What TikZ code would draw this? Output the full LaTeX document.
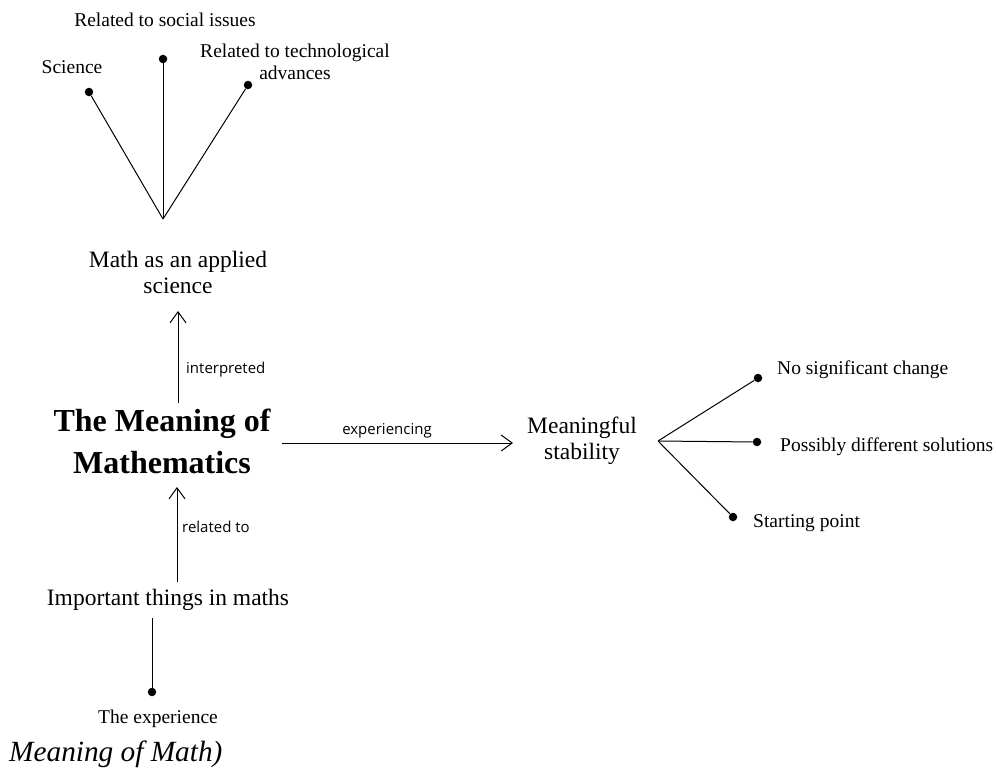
\documentclass[tikz,border=0pt]{standalone}
\usepackage{fontspec}
\setmainfont{Liberation Serif}
\newfontfamily\labelfont{Open Sans}
\usetikzlibrary{arrows.meta}
\begin{document}
\begin{tikzpicture}[x=1pt,y=-1pt,
  leaf/.style={font=\fontsize{19.5}{22}\selectfont, align=center, inner sep=0pt},
  concept/.style={font=\fontsize{23.5}{26}\selectfont, align=center, inner sep=0pt},
  title/.style={font=\fontsize{32}{42}\selectfont\bfseries, align=center, inner sep=0pt},
  linklabel/.style={font=\labelfont\fontsize{15}{17}\selectfont, inner sep=0pt},
  dot/.style={circle, fill=black, inner sep=0pt, minimum size=8.5pt},
  link/.style={line width=1pt},
  flow/.style={line width=1pt, -{Straight Barb[length=11pt,width=16pt,line width=1pt]}}]
\useasboundingbox (0,0) rectangle (996,769);

% top branch: applied science and its three aspects
\node[leaf] (sci)    at (72,67)   {Science};
\node[leaf] (social) at (165,20)  {Related to social issues};
\node[leaf] (tech)   at (295,62)  {Related to technological\\advances};
\node[dot] (dsci)    at (89,92)  {};
\node[dot] (dsocial) at (163,59) {};
\node[dot] (dtech)   at (248,85) {};
\coordinate (hub) at (163,219);
\draw[link] (hub) -- (dsci);
\draw[link] (hub) -- (dsocial);
\draw[link] (hub) -- (dtech);

\node[concept] (applied) at (178,272) {Math as an applied\\science};

% central concept
\node[title] (meaning) at (162,441) {The Meaning of\\Mathematics};

\coordinate (intA) at (178,403);
\coordinate (intB) at (178,311);
\draw[flow] (intA) -- (intB);
\node[linklabel, anchor=west] (lint) at (186,370) {interpreted};

% right branch
\node[concept] (stab) at (582,441) {Meaningful\\stability};
\coordinate (expA) at (282,443);
\coordinate (expB) at (513,443);
\draw[flow] (expA) -- (expB);
\node[linklabel] (lexp) at (387,431) {experiencing};

\coordinate (hub2) at (658,441);
\node[dot] (dnochange) at (758,378) {};
\node[dot] (dposs)     at (757,442) {};
\node[dot] (dstart)    at (733,517) {};
\draw[link] (hub2) -- (dnochange);
\draw[link] (hub2) -- (dposs);
\draw[link] (hub2) -- (dstart);
\node[leaf, anchor=west] (nochange) at (777,370) {No significant change};
\node[leaf, anchor=west] (poss)     at (780,447) {Possibly different solutions};
\node[leaf, anchor=west] (start)    at (753,523) {Starting point};

% bottom branch
\node[concept] (important) at (168,600) {Important things in maths};
\coordinate (relA) at (177,582);
\coordinate (relB) at (177,487);
\draw[flow] (relA) -- (relB);
\node[linklabel, anchor=west] (lrel) at (182,527) {related to};

\coordinate (impB) at (152,618);
\node[dot] (dexp) at (152,692) {};
\draw[link] (impB) -- (dexp);
\node[leaf] (exper) at (158,719) {The experience};

% caption fragment
\node[font=\fontsize{29.3}{34}\selectfont\itshape, anchor=base west, inner sep=0pt] (cap) at (9,761) {Meaning of Math)};
\end{tikzpicture}
\end{document}
